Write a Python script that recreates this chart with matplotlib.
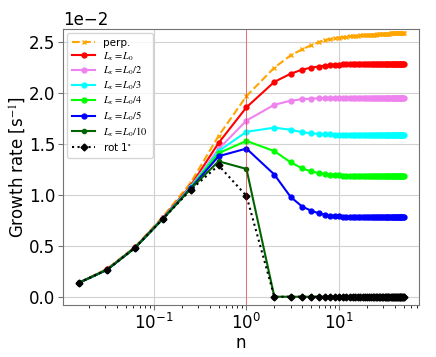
import numpy as np
import matplotlib
matplotlib.use("Agg")
import matplotlib.pyplot as plt

plt.rcParams['mathtext.fontset'] = 'stix'

# wave number n (log axis)
n = [0.015625, 0.03125, 0.0625, 0.125, 0.25, 0.5] + list(range(1, 51))

# growth rates in units of 1e-2 s^-1
perp = [0.14, 0.275, 0.49, 0.785, 1.12, 1.58,
        1.97, 2.25, 2.37, 2.43, 2.47, 2.50, 2.52, 2.53, 2.54, 2.545,
        2.55, 2.555, 2.56, 2.56, 2.565, 2.565, 2.57, 2.57, 2.57, 2.575,
        2.575, 2.575, 2.575, 2.575, 2.575, 2.58, 2.58, 2.58, 2.58, 2.58,
        2.58, 2.58, 2.58, 2.58, 2.58, 2.585, 2.585, 2.585, 2.585, 2.585,
        2.585, 2.585, 2.585, 2.585, 2.585, 2.59, 2.59, 2.59, 2.59, 2.59]
l0 = [0.138, 0.268, 0.485, 0.775, 1.09, 1.51,
      1.86, 2.11, 2.19, 2.23, 2.25, 2.26, 2.27, 2.275, 2.28, 2.28,
      2.285, 2.285, 2.285, 2.285, 2.285, 2.285, 2.285, 2.285, 2.285, 2.285,
      2.29, 2.29, 2.29, 2.29, 2.29, 2.29, 2.29, 2.29, 2.29, 2.29,
      2.29, 2.29, 2.29, 2.29, 2.29, 2.29, 2.29, 2.29, 2.29, 2.29,
      2.29, 2.29, 2.29, 2.29, 2.29, 2.29, 2.29, 2.29, 2.29, 2.29]
l0_2 = [0.138, 0.267, 0.483, 0.77, 1.08, 1.45,
        1.73, 1.885, 1.925, 1.94, 1.945, 1.95, 1.95, 1.95, 1.952, 1.952,
        1.954, 1.954, 1.954, 1.954, 1.954, 1.955, 1.955, 1.955, 1.955, 1.955,
        1.955, 1.955, 1.955, 1.955, 1.955, 1.955, 1.955, 1.955, 1.955, 1.955,
        1.955, 1.955, 1.955, 1.955, 1.955, 1.955, 1.955, 1.955, 1.955, 1.955,
        1.955, 1.955, 1.955, 1.955, 1.955, 1.955, 1.955, 1.955, 1.955, 1.955]
l0_3 = [0.138, 0.266, 0.482, 0.768, 1.075, 1.43,
        1.62, 1.66, 1.64, 1.615, 1.605, 1.60, 1.597, 1.595, 1.593, 1.592,
        1.591, 1.59, 1.59, 1.59, 1.59, 1.59, 1.59, 1.59, 1.59, 1.59,
        1.59, 1.59, 1.59, 1.59, 1.59, 1.59, 1.59, 1.59, 1.59, 1.59,
        1.59, 1.59, 1.59, 1.59, 1.59, 1.59, 1.59, 1.59, 1.59, 1.59,
        1.59, 1.59, 1.59, 1.59, 1.59, 1.59, 1.59, 1.59, 1.59, 1.59]
l0_4 = [0.138, 0.266, 0.481, 0.766, 1.07, 1.41,
        1.53, 1.43, 1.32, 1.26, 1.23, 1.215, 1.205, 1.20, 1.195, 1.192,
        1.19, 1.188, 1.187, 1.186, 1.185, 1.185, 1.185, 1.185, 1.185, 1.185,
        1.185, 1.185, 1.185, 1.185, 1.185, 1.185, 1.185, 1.185, 1.185, 1.185,
        1.185, 1.185, 1.185, 1.185, 1.185, 1.185, 1.185, 1.185, 1.185, 1.185,
        1.185, 1.185, 1.185, 1.185, 1.185, 1.185, 1.185, 1.185, 1.185, 1.185]
l0_5 = [0.138, 0.265, 0.48, 0.765, 1.065, 1.38,
        1.455, 1.20, 0.98, 0.885, 0.845, 0.82, 0.805, 0.797, 0.792, 0.788,
        0.786, 0.784, 0.783, 0.782, 0.781, 0.78, 0.78, 0.78, 0.78, 0.78,
        0.78, 0.78, 0.78, 0.78, 0.78, 0.78, 0.78, 0.78, 0.78, 0.78,
        0.78, 0.78, 0.78, 0.78, 0.78, 0.78, 0.78, 0.78, 0.78, 0.78,
        0.78, 0.78, 0.78, 0.78, 0.78, 0.78, 0.78, 0.78, 0.78, 0.78]
l0_10 = [0.138, 0.265, 0.48, 0.764, 1.06, 1.33,
         1.255, 0.0, 0.0, 0.0, 0.0, 0.0, 0.0, 0.0, 0.0, 0.0,
         0.0, 0.0, 0.0, 0.0, 0.0, 0.0, 0.0, 0.0, 0.0, 0.0,
         0.0, 0.0, 0.0, 0.0, 0.0, 0.0, 0.0, 0.0, 0.0, 0.0,
         0.0, 0.0, 0.0, 0.0, 0.0, 0.0, 0.0, 0.0, 0.0, 0.0,
         0.0, 0.0, 0.0, 0.0, 0.0, 0.0, 0.0, 0.0, 0.0, 0.0]
rot1 = [0.138, 0.265, 0.48, 0.764, 1.05, 1.29,
        0.99, 0.0, 0.0, 0.0, 0.0, 0.0, 0.0, 0.0, 0.0, 0.0,
        0.0, 0.0, 0.0, 0.0, 0.0, 0.0, 0.0, 0.0, 0.0, 0.0,
        0.0, 0.0, 0.0, 0.0, 0.0, 0.0, 0.0, 0.0, 0.0, 0.0,
        0.0, 0.0, 0.0, 0.0, 0.0, 0.0, 0.0, 0.0, 0.0, 0.0,
        0.0, 0.0, 0.0, 0.0, 0.0, 0.0, 0.0, 0.0, 0.0, 0.0]

fig = plt.figure(figsize=(4.36, 3.57), dpi=100)
ax = fig.add_axes([0.145, 0.146, 0.816, 0.773])

sc = 1e-2
ax.plot(n, np.array(perp) * sc, '--', color='orange', marker='x', ms=3, lw=1.5, label='perp.')
ax.plot(n, np.array(l0) * sc, '-o', color='red', ms=3.5, lw=1.5, label=r'$L_x = L_0$')
ax.plot(n, np.array(l0_2) * sc, '-o', color='violet', ms=3.5, lw=1.5, label=r'$L_x = L_0/2$')
ax.plot(n, np.array(l0_3) * sc, '-o', color='cyan', ms=3.5, lw=1.5, label=r'$L_x = L_0/3$')
ax.plot(n, np.array(l0_4) * sc, '-o', color='lime', ms=3.5, lw=1.5, label=r'$L_x = L_0/4$')
ax.plot(n, np.array(l0_5) * sc, '-o', color='blue', ms=3.5, lw=1.5, label=r'$L_x = L_0/5$')
ax.plot(n, np.array(l0_10) * sc, '-o', color='darkgreen', ms=3, lw=1.5, label=r'$L_x = L_0/10$')
ax.plot(n, np.array(rot1) * sc, ':D', color='black', ms=3.5, lw=1.5, label=r'rot 1$^{\circ}$')

ax.axvline(1, color='red', lw=0.7, alpha=0.45)

ax.set_xscale('log')
ax.set_xlim(0.0105, 73)
ax.set_ylim(-0.0008, 0.0263)
ax.ticklabel_format(axis='y', style='sci', scilimits=(-2, -2))
ax.grid(True, color='0.82', lw=0.8)
ax.set_axisbelow(True)
for s in ax.spines.values():
    s.set_color('0.45')
ax.tick_params(labelsize=12, colors='0.45', labelcolor='black', pad=2)
ax.yaxis.get_offset_text().set_fontsize(12)
ax.set_xlabel('n', fontsize=12, labelpad=1)
ax.set_ylabel('Growth rate [s$^{-1}$]', fontsize=12, labelpad=1)
ax.legend(loc='upper left', fontsize=7.5, handlelength=2.2, borderpad=0.45,
          labelspacing=0.22, borderaxespad=0.4)

fig.savefig('out.png', dpi=100)
